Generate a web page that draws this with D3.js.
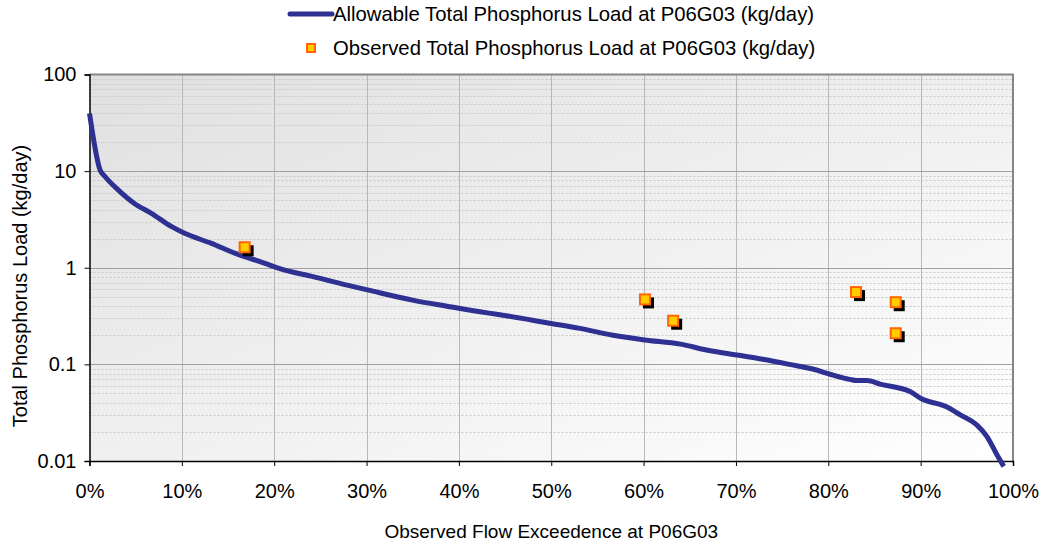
<!DOCTYPE html>
<html>
<head>
<meta charset="utf-8">
<script src="https://cdn.jsdelivr.net/npm/d3@7"></script>
<style>
  body { margin: 0; background: #fff; }
  text { font-family: "Liberation Sans", Arial, sans-serif; }
</style>
</head>
<body>
<div id="chart"></div>
<script>
// allowable load curve: flow exceedence (fraction) vs kg/day
const curveExceed = [0, 0.0114, 0.017, 0.031, 0.049, 0.067, 0.089, 0.103, 0.132, 0.158, 0.19, 0.206, 0.242, 0.279,
  0.301, 0.351, 0.387, 0.423, 0.441, 0.5, 0.531, 0.567, 0.601, 0.64, 0.668, 0.701, 0.729, 0.758, 0.784,
  0.802, 0.823, 0.831, 0.842, 0.856, 0.889, 0.901, 0.928, 0.943, 0.961, 0.972, 0.982, 0.99];
const curveLoad = [39.6, 10.3, 8.75, 6.4, 4.6, 3.66, 2.66, 2.27, 1.79, 1.41, 1.11, 0.98, 0.81, 0.66,
  0.59, 0.46, 0.4, 0.35, 0.33, 0.265, 0.236, 0.2, 0.179, 0.162, 0.141, 0.125, 0.113, 0.1, 0.089,
  0.079, 0.07, 0.068, 0.068, 0.0625, 0.052, 0.044, 0.0364, 0.03, 0.0235, 0.0178, 0.0119, 0.0088];

// observed samples
const obsExceed = [0.168, 0.6015, 0.632, 0.83, 0.873, 0.873];
const obsLoad = [1.63, 0.47, 0.283, 0.56, 0.44, 0.21];

const xTicks = [0, 0.1, 0.2, 0.3, 0.4, 0.5, 0.6, 0.7, 0.8, 0.9, 1];
const yTicks = [0.01, 0.1, 1, 10, 100];

const seriesNames = ["Allowable Total Phosphorus Load at P06G03 (kg/day)",
  "Observed Total Phosphorus Load at P06G03 (kg/day)"];
const xTitle = "Observed Flow Exceedence at P06G03";
const yTitle = "Total Phosphorus Load (kg/day)";

const width = 1042, height = 546;
const margin = { top: 74.5, right: 29, bottom: 85, left: 89.5 };

const svg = d3.select("#chart").append("svg")
  .attr("width", width).attr("height", height);

const x = d3.scaleLinear().domain([0, 1]).range([margin.left, width - margin.right]);
const y = d3.scaleLog().domain([0.01, 100]).range([height - margin.bottom, margin.top]);

const defs = svg.append("defs");
const grad = defs.append("linearGradient").attr("id", "bg")
  .attr("x1", "0%").attr("y1", "0%").attr("x2", "100%").attr("y2", "100%");
grad.append("stop").attr("offset", "0%").attr("stop-color", "#e0e0e0");
grad.append("stop").attr("offset", "100%").attr("stop-color", "#ffffff");

svg.append("rect")
  .attr("x", x(0)).attr("y", y(100))
  .attr("width", x(1) - x(0)).attr("height", y(0.01) - y(100))
  .attr("fill", "url(#bg)");

// minor gridlines
const minor = [];
for (let e = -2; e < 2; e++) for (let m = 2; m <= 9; m++) minor.push(m * Math.pow(10, e));
svg.append("g").selectAll("line").data(minor).join("line")
  .attr("x1", x(0)).attr("x2", x(1))
  .attr("y1", (d) => Math.round(y(d)) + 0.5).attr("y2", (d) => Math.round(y(d)) + 0.5)
  .attr("stroke", "#c8c8c8").attr("stroke-dasharray", "2,2");

// vertical gridlines
svg.append("g").selectAll("line").data(xTicks.slice(1, -1)).join("line")
  .attr("x1", (d) => Math.round(x(d)) + 0.5).attr("x2", (d) => Math.round(x(d)) + 0.5)
  .attr("y1", y(100)).attr("y2", y(0.01))
  .attr("stroke", "#b8b8b8");

// major horizontal gridlines
svg.append("g").selectAll("line").data(yTicks.slice(1, -1)).join("line")
  .attr("x1", x(0)).attr("x2", x(1))
  .attr("y1", (d) => Math.round(y(d)) + 0.5).attr("y2", (d) => Math.round(y(d)) + 0.5)
  .attr("stroke", "#a0a0a0");

// top & right border
svg.append("path")
  .attr("d", `M${x(0)},${y(100)}H${x(1)}V${y(0.01)}`)
  .attr("fill", "none").attr("stroke", "#858585").attr("stroke-width", 2);

// axes
const yAxis = svg.append("g")
  .attr("transform", `translate(${x(0)},0)`)
  .call(d3.axisLeft(y).tickValues(yTicks).tickSize(5).tickPadding(8)
    .tickFormat((d) => (d < 1 ? d3.format("")(d) : d)));
yAxis.select(".domain").attr("stroke", "#000").attr("stroke-width", 1.5);
yAxis.selectAll(".tick line").attr("stroke", "#000");
yAxis.selectAll("text").style("font-size", "20px").attr("fill", "#000");

const xAxis = svg.append("g")
  .attr("transform", `translate(0,${y(0.01)})`)
  .call(d3.axisBottom(x).tickValues(xTicks).tickSize(5).tickPadding(18)
    .tickFormat(d3.format(".0%")));
xAxis.select(".domain").attr("stroke", "#000").attr("stroke-width", 1.5);
xAxis.selectAll(".tick line").attr("stroke", "#000");
xAxis.selectAll("text").style("font-size", "20px").attr("fill", "#000");

// allowable curve
const curve = curveExceed.map((d, i) => ({ x: d, y: curveLoad[i] }));
svg.append("path")
  .datum(curve)
  .attr("d", d3.line().x((d) => x(d.x)).y((d) => y(d.y)).curve(d3.curveMonotoneX))
  .attr("fill", "none").attr("stroke", "#2e3192").attr("stroke-width", 5)
  .attr("stroke-linejoin", "round");

// observed markers with shadow
const obs = obsExceed.map((d, i) => ({ x: d, y: obsLoad[i] }));
const mk = svg.append("g").selectAll("g").data(obs).join("g")
  .attr("transform", (d) => `translate(${x(d.x)},${y(d.y)})`);
mk.append("rect").attr("x", -2).attr("y", -2).attr("width", 11).attr("height", 11).attr("fill", "#000");
mk.append("rect").attr("x", -5).attr("y", -5).attr("width", 10).attr("height", 10)
  .attr("fill", "#ffcc00").attr("stroke", "#ff6600").attr("stroke-width", 2);

// legend
const leg = svg.append("g");
leg.append("line").attr("x1", 290).attr("x2", 332).attr("y1", 14).attr("y2", 14)
  .attr("stroke", "#2e3192").attr("stroke-width", 5).attr("stroke-linecap", "round");
leg.append("text").attr("x", 333).attr("y", 14).attr("dy", "0.35em")
  .style("font-size", "20.3px").text(seriesNames[0]);
leg.append("rect").attr("x", 307).attr("y", 44).attr("width", 8).attr("height", 8)
  .attr("fill", "#ffcc00").attr("stroke", "#ff6600").attr("stroke-width", 2);
leg.append("text").attr("x", 333).attr("y", 48).attr("dy", "0.35em")
  .style("font-size", "20.3px").text(seriesNames[1]);

// axis titles
svg.append("text").attr("x", (x(0) + x(1)) / 2).attr("y", 531).attr("dy", "0.35em")
  .attr("text-anchor", "middle").style("font-size", "19px").text(xTitle);
svg.append("text").attr("transform", "translate(20,286) rotate(-90)")
  .attr("dy", "0.35em").attr("text-anchor", "middle").style("font-size", "20px").text(yTitle);
</script>
</body>
</html>
